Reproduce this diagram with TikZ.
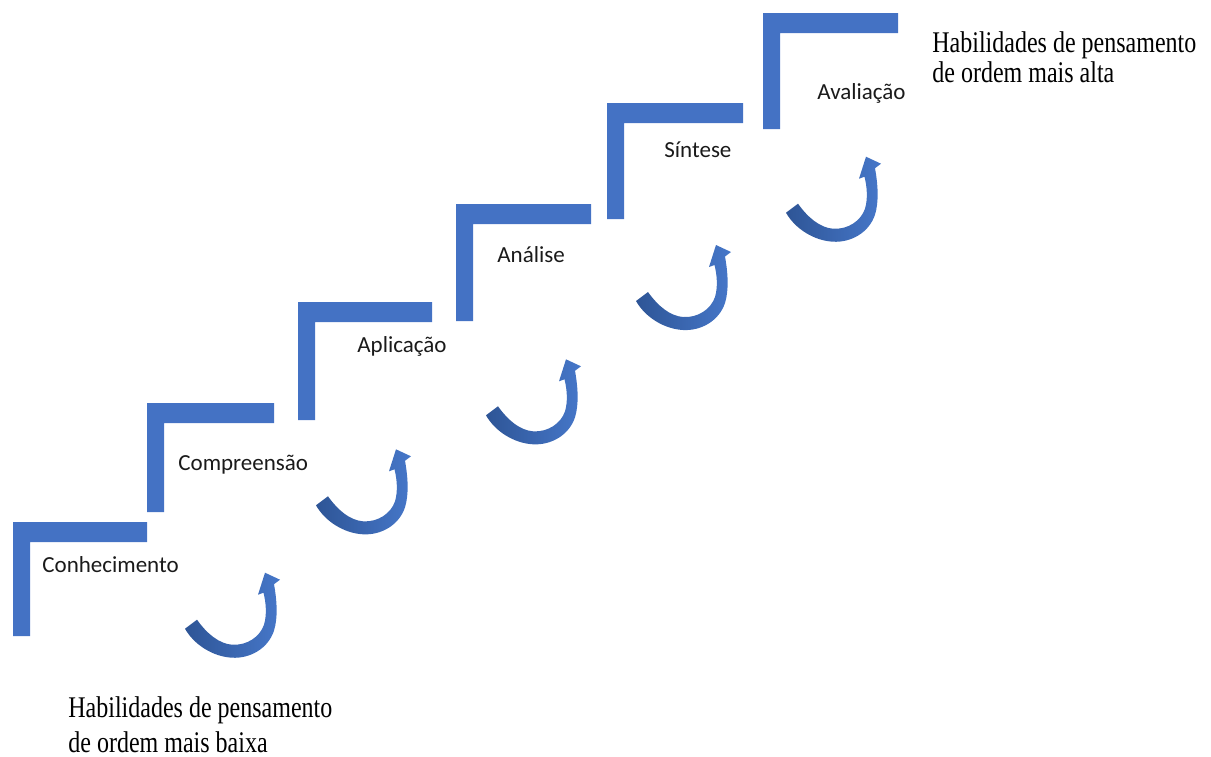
\documentclass[tikz,border=0pt]{standalone}
\usepackage{fontspec}
\setmainfont{Liberation Serif}
\newfontfamily\calib{Carlito}
\definecolor{stair}{HTML}{4472C4}
\definecolor{arrdark}{HTML}{2E5596}
\definecolor{arrlight}{HTML}{4677C9}
\definecolor{labeltext}{HTML}{1A1A1A}
\newcommand\stairstep[4]{%
  \fill[stairfill] (#1,#2) -- (#3,#2) -- (#3,#2+20) -- (#1+17,#2+20) -- (#1+17,#4) -- (#1,#4) -- cycle;}
\tikzset{
  stairfill/.style={fill=stair},
  steplabel/.style={anchor=base west, inner sep=0pt, text=labeltext, font=\calib\fontsize{11.5}{13}\selectfont},
  sidetext/.style={anchor=base west, inner sep=0pt, text=black},
  climb/.pic={
    \shade[left color=arrdark, right color=arrlight]
      (0,0) -- (15,7) -- (9,11.5)
      .. controls (12,28) and (13,45) .. (9,58)
      .. controls (3,76) and (-15,86) .. (-33,85)
      .. controls (-52,84) and (-71,72) .. (-80,56)
      -- (-68,47)
      .. controls (-58,61) and (-46,71) .. (-33,72)
      .. controls (-18,73) and (-5,64) .. (-1,52)
      .. controls (2,42) and (1,30) .. (-1.5,20)
      -- (-7,22) -- cycle;
  }
}
\begin{document}
\begin{tikzpicture}[x=0.5pt,y=-0.5pt]
\useasboundingbox (0,0) rectangle (1211,756);
% stairs
\stairstep{13}{522}{147}{636}
\stairstep{147}{403}{274}{512}
\stairstep{298}{302}{432}{420}
\stairstep{456}{204}{591}{321}
\stairstep{607}{103}{743}{219}
\stairstep{763}{13}{898}{129}
% step labels
\node[steplabel] (conh) at (42,572) {Conhecimento};
\node[steplabel] (comp) at (178,470) {Compreensão};
\node[steplabel] (apli) at (357,352) {Aplicação};
\node[steplabel] (anal) at (497,262) {Análise};
\node[steplabel] (sint) at (664,157) {Síntese};
\node[steplabel] (aval) at (817,99) {Avaliação};
% arrows
\pic at (265,572.7) {climb};
\pic at (396,449.3) {climb};
\pic at (566,359.3) {climb};
\pic at (716,245) {climb};
\pic at (866,156.7) {climb};
% side texts
\node[sidetext] (high) at (932,52) {\scalebox{0.8}[1]{\fontsize{15}{15}\selectfont\begin{tabular}[t]{@{}l@{}}Habilidades de pensamento\\de ordem mais alta\end{tabular}}};
\node[sidetext] (low) at (68,717) {\scalebox{0.8}[1]{\fontsize{15}{17.5}\selectfont\begin{tabular}[t]{@{}l@{}}Habilidades de pensamento\\de ordem mais baixa\end{tabular}}};
\end{tikzpicture}
\end{document}
